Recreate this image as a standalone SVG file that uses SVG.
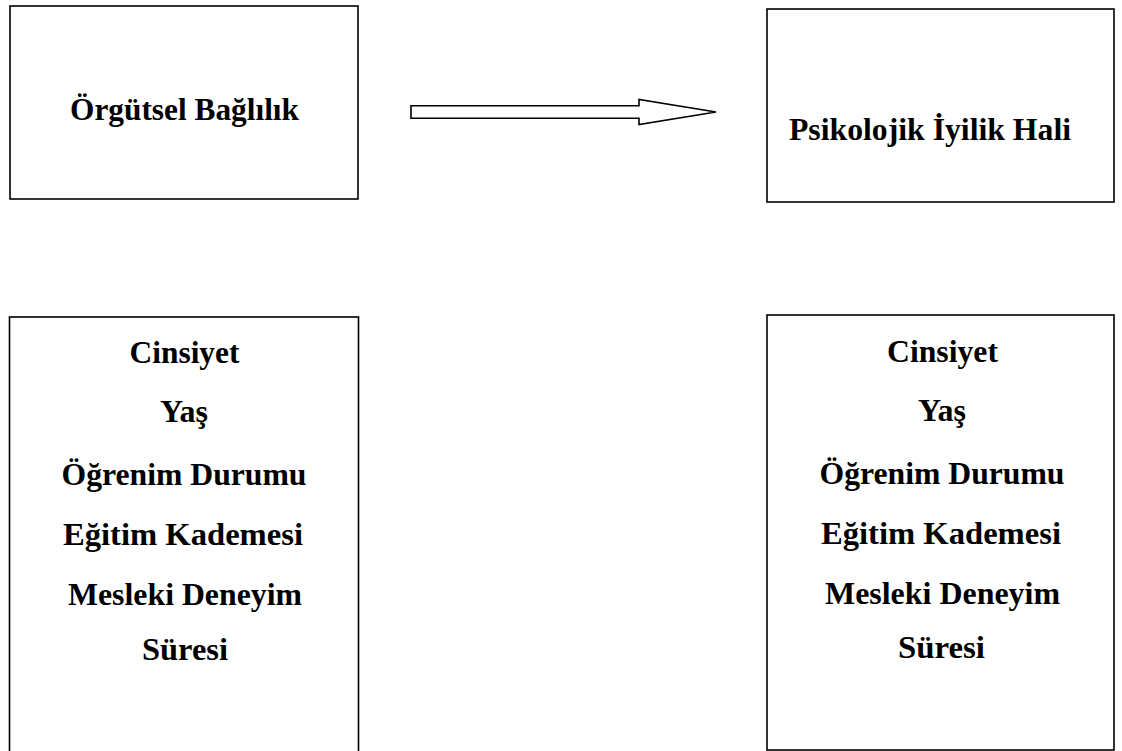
<svg xmlns="http://www.w3.org/2000/svg" width="1122" height="751" viewBox="0 0 1122 751">
<style>
.box{fill:#fff;stroke:#000;stroke-width:1.6}
.t{font-family:"Liberation Serif","Times New Roman",serif;font-weight:bold;font-size:31px;fill:#000;text-anchor:middle}
</style>
<rect width="1122" height="751" fill="#fff"/>
<g id="orgutsel">
<rect class="box" x="10" y="6" width="348" height="193"/>
<text class="t" x="184.5" y="120" textLength="229" lengthAdjust="spacingAndGlyphs">Örgütsel Bağlılık</text>
</g>
<g id="psikolojik">
<rect class="box" x="767" y="9" width="347" height="193"/>
<text class="t" x="930" y="140" textLength="282" lengthAdjust="spacingAndGlyphs">Psikolojik İyilik Hali</text>
</g>
<g id="demo-left">
<rect class="box" x="9.5" y="317" width="349" height="450"/>
<text class="t" x="184.5" y="363" textLength="110" lengthAdjust="spacingAndGlyphs">Cinsiyet</text>
<text class="t" x="184" y="422" textLength="48" lengthAdjust="spacingAndGlyphs">Yaş</text>
<text class="t" x="184" y="485" textLength="245" lengthAdjust="spacingAndGlyphs">Öğrenim Durumu</text>
<text class="t" x="183" y="545" textLength="240" lengthAdjust="spacingAndGlyphs">Eğitim Kademesi</text>
<text class="t" x="185" y="605" textLength="234" lengthAdjust="spacingAndGlyphs">Mesleki Deneyim</text>
<text class="t" x="185" y="660" textLength="86" lengthAdjust="spacingAndGlyphs">Süresi</text>
</g>
<g id="demo-right">
<rect class="box" x="767" y="315" width="347" height="435"/>
<text class="t" x="942.5" y="362" textLength="111" lengthAdjust="spacingAndGlyphs">Cinsiyet</text>
<text class="t" x="942" y="421" textLength="48" lengthAdjust="spacingAndGlyphs">Yaş</text>
<text class="t" x="942" y="484" textLength="245" lengthAdjust="spacingAndGlyphs">Öğrenim Durumu</text>
<text class="t" x="941" y="544" textLength="240" lengthAdjust="spacingAndGlyphs">Eğitim Kademesi</text>
<text class="t" x="942.5" y="604" textLength="235" lengthAdjust="spacingAndGlyphs">Mesleki Deneyim</text>
<text class="t" x="941.5" y="658" textLength="87" lengthAdjust="spacingAndGlyphs">Süresi</text>
</g>
<g id="connectors">
<polygon points="411,105.7 639,105.7 639,99.5 716,112 639,124.5 639,118.3 411,118.3" fill="#fff" stroke="#000" stroke-width="1.6" stroke-linejoin="miter"/>
</g>
</svg>
